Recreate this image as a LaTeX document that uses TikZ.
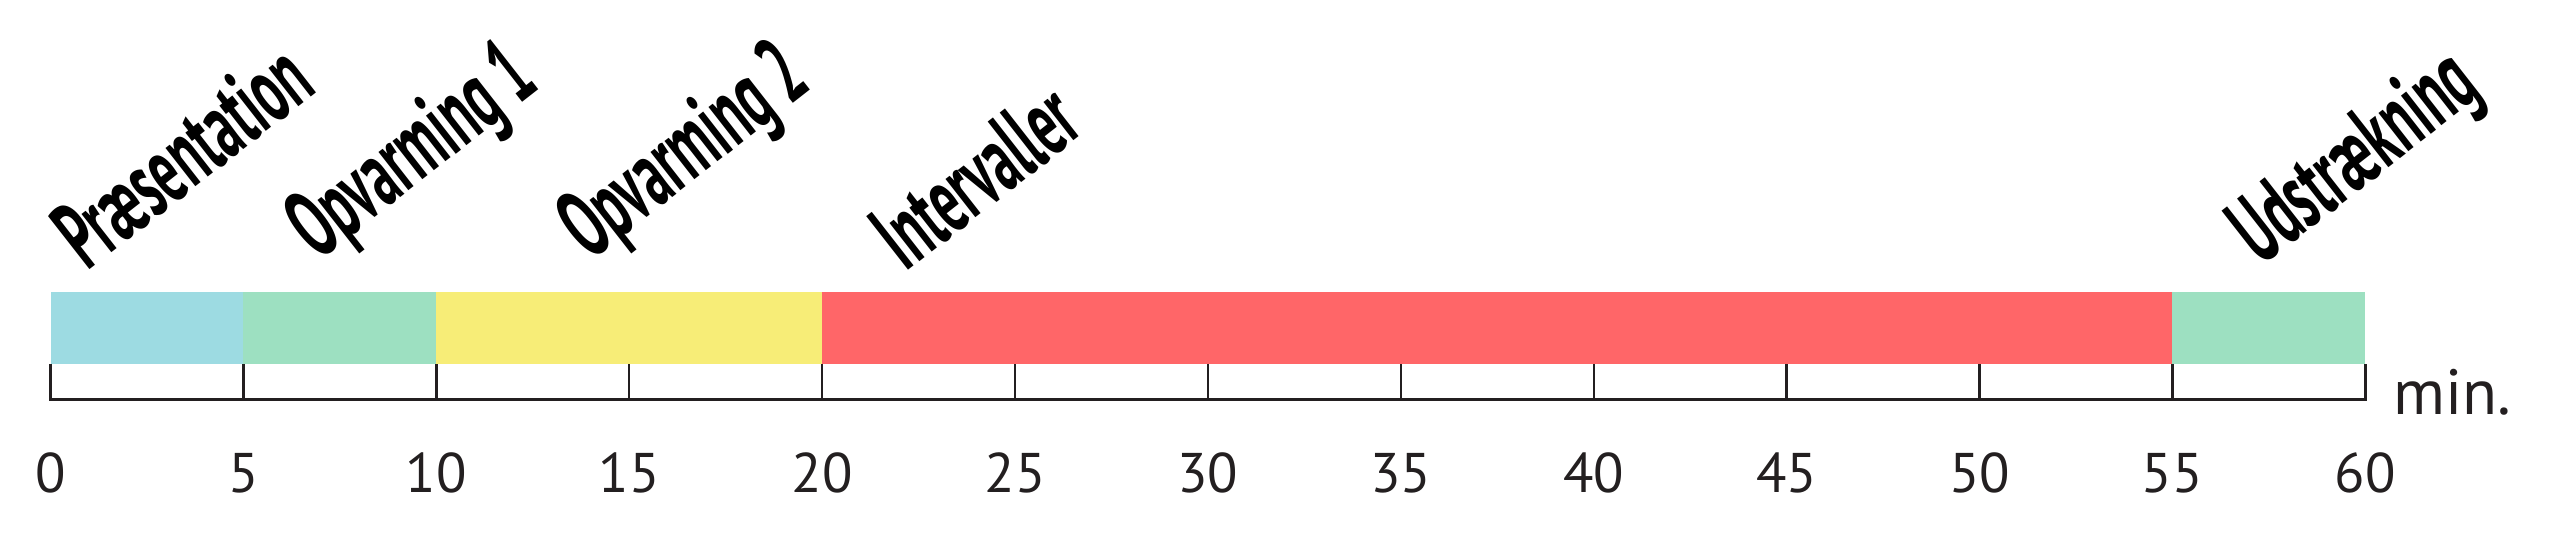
\documentclass[tikz,border=0pt]{standalone}
\usepackage{fontspec}
\setmainfont{PT Sans}
\newfontfamily\phaseFont[FakeStretch=0.53]{PT Sans}
\usepackage{tikz}
\usetikzlibrary{positioning}
\definecolor{barCyan}{RGB}{157,219,226}
\definecolor{barGreen}{RGB}{157,224,193}
\definecolor{barYellow}{RGB}{247,237,119}
\definecolor{barRed}{RGB}{255,102,104}
\definecolor{axisGray}{RGB}{35,31,32}
\newcommand{\labelAngle}{38}
\newcommand{\barBottom}{0.36}
\newcommand{\barTop}{1.08}
\tikzstyle{phaseLabel}=[anchor=base west, inner sep=0pt, rotate=\labelAngle, font=\phaseFont\bfseries\fontsize{27.6}{30}\selectfont]
\tikzstyle{tickLabel}=[inner sep=0pt, text=axisGray, font=\fontsize{15.9}{18}\selectfont]
\tikzstyle{unitLabel}=[anchor=base west, inner sep=0pt, text=axisGray, font=\fontsize{18.2}{20}\selectfont]
\tikzstyle{axisLine}=[draw=axisGray, line width=0.85pt]
\tikzstyle{tickLine}=[draw=axisGray, line width=0.7pt]
\begin{document}
\begin{tikzpicture}[x=0.3858cm, y=1cm]
    \useasboundingbox (-0.505cm,-1.58cm) rectangle (25.095cm,4cm);
    % coloured phases
    \foreach \from/\to/\col in {0/5/barCyan, 5/10/barGreen, 10/20/barYellow, 20/55/barRed, 55/60/barGreen}
      \fill[\col] (\from,\barBottom) rectangle (\to,\barTop);
    % time axis
    \draw[axisLine] (0,\barBottom) -- (0,0) coordinate (axisStart) -- (60,0) coordinate (axisEnd) -- (60,\barBottom);
    \foreach \m in {0,5,...,60} {
      \draw[tickLine] (\m,0) -- (\m,\barBottom);
      \node[tickLabel] (tick\m) at (\m,-0.73) {\m};
    }
    \node[unitLabel] (unit) at (60.72,-0.15) {min.};
    % phase names
    \node[phaseLabel] (praesentation) at (0.95,1.28) {Præsentation};
    \node[phaseLabel] (opvarmingA) at (6.93,1.38) {Opvarming 1};
    \node[phaseLabel] (opvarmingB) at (13.98,1.38) {Opvarming 2};
    \node[phaseLabel] (intervaller) at (22.15,1.27) {Intervaller};
    \node[phaseLabel] (udstraekning) at (57.3,1.33) {Udstrækning};
\end{tikzpicture}
\end{document}
